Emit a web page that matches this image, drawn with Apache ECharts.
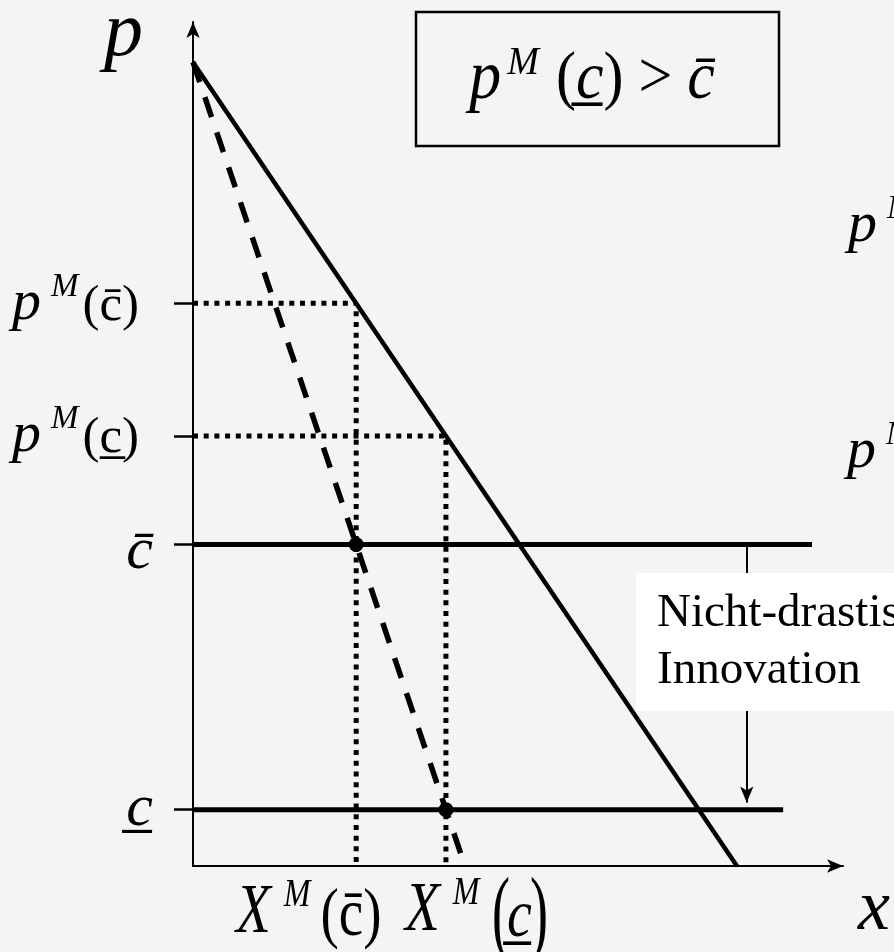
<!DOCTYPE html>
<html>
<head>
<meta charset="utf-8">
<script src="https://cdn.jsdelivr.net/npm/echarts@6/dist/echarts.min.js"></script>
<style>
  html, body { margin: 0; padding: 0; background: #f4f4f4; }
  #chart { width: 894px; height: 952px; }
</style>
</head>
<body>
<div id="chart"></div>
<script>
// Nachfrage- und Grenzerlöskurve (x, p)
const demandLine = [[0, 10], [10, 0]];
const mrLine = [[0, 10], [5, 0]];

// Kostenniveaus vor / nach der Innovation
const cHigh = 4;
const cLow = 0.7;
const cHighEnd = 11.38;
const cLowEnd = 10.85;

// Monopolpreise und -mengen
const pMonopoly = [7, 5.35];   // p^M(c̄), p^M(c̲)
const xMonopoly = [3, 4.65];   // X^M(c̄), X^M(c̲)

// Achsenmarken links
const yTicks = [cLow, cHigh, pMonopoly[1], pMonopoly[0]];
const yTickLabels = ['{c|c̲}', '{cb|c̄}', '{p|p}{m|M}{u|(c̲)}', '{p|p}{m|M}{u|(c̄)}'];

// Pfeil "Nicht-drastische Innovation"
const arrowX = 10.18;

const serif = '"Liberation Serif", "Times New Roman", serif';

const chart = echarts.init(document.getElementById('chart'));

const richLabel = {
  p: { fontFamily: serif, fontStyle: 'italic', fontSize: 58, lineHeight: 66, color: '#000', verticalAlign: 'middle' },
  m: { fontFamily: serif, fontStyle: 'italic', fontSize: 33, lineHeight: 32, color: '#000', verticalAlign: 'top', padding: [0, 4, 0, 10] },
  u: { fontFamily: serif, fontSize: 51, lineHeight: 66, color: '#000', verticalAlign: 'middle', padding: [6, 14, 0, 0] },
  c: { fontFamily: serif, fontStyle: 'italic', fontSize: 60, lineHeight: 66, color: '#000', verticalAlign: 'middle' },
  cb: { fontFamily: serif, fontStyle: 'italic', fontSize: 60, lineHeight: 66, color: '#000', verticalAlign: 'middle', padding: [16, 0, 0, 0] }
};

const richSide = {
  p: { fontFamily: serif, fontStyle: 'italic', fontSize: 58, lineHeight: 66, color: '#000', verticalAlign: 'middle' },
  m: { fontFamily: serif, fontStyle: 'italic', fontSize: 33, lineHeight: 32, color: '#000', verticalAlign: 'top', padding: [0, 0, 0, 10] }
};

// gestreckte Formeltexte (wie im Original hochskaliert)
const xLabelRich = {
  x: { fontFamily: serif, fontStyle: 'italic', fontSize: 57, lineHeight: 62, verticalAlign: 'middle' },
  m: { fontFamily: serif, fontStyle: 'italic', fontSize: 32, lineHeight: 30, verticalAlign: 'top', padding: [0, 10, 0, 13] },
  u: { fontFamily: serif, fontSize: 55, lineHeight: 62, verticalAlign: 'middle', padding: [6, 0, 0, 0] }
};

const option = {
  backgroundColor: '#f4f4f4',
  animation: false,
  grid: { left: 193, right: 51, top: 22, bottom: 86 },
  xAxis: {
    type: 'value',
    min: 0,
    max: 11.95,
    axisLine: { show: true, symbol: ['none', 'arrow'], symbolSize: [10, 16], lineStyle: { color: '#000', width: 2 } },
    axisTick: { show: false },
    axisLabel: { show: false },
    splitLine: { show: false }
  },
  yAxis: {
    type: 'value',
    min: 0,
    max: 10.5,
    axisLine: { show: true, symbol: ['none', 'arrow'], symbolSize: [10, 16], lineStyle: { color: '#000', width: 2 } },
    axisTick: { show: true, customValues: yTicks, length: 19, lineStyle: { color: '#000', width: 2.5 } },
    axisLabel: {
      show: true,
      customValues: yTicks,
      margin: 40,
      formatter: (v) => yTickLabels[yTicks.indexOf(v)] || '',
      rich: richLabel
    },
    splitLine: { show: false }
  },
  series: [
    {
      // gepunktete Hilfslinien
      type: 'line',
      data: [[0, pMonopoly[0]], [xMonopoly[0], pMonopoly[0]], [xMonopoly[0], 0]],
      showSymbol: false,
      lineStyle: { color: '#000', width: 5, type: [5, 5.7] },
      z: 1
    },
    {
      type: 'line',
      data: [[0, pMonopoly[1]], [xMonopoly[1], pMonopoly[1]], [xMonopoly[1], 0]],
      showSymbol: false,
      lineStyle: { color: '#000', width: 5, type: [5, 5.7] },
      z: 1
    },
    {
      // Grenzerlös
      type: 'line',
      data: mrLine,
      showSymbol: false,
      lineStyle: { color: '#000', width: 5.5, type: [21, 16] },
      z: 2
    },
    {
      // Nachfrage
      type: 'line',
      data: demandLine,
      showSymbol: false,
      lineStyle: { color: '#000', width: 4.5 },
      z: 3
    },
    {
      type: 'line',
      data: [[0, cHigh], [cHighEnd, cHigh]],
      showSymbol: false,
      lineStyle: { color: '#000', width: 5 },
      z: 3,
      markLine: {
        silent: true,
        symbol: ['none', 'arrow'],
        symbolSize: [10, 16],
        label: { show: false },
        lineStyle: { color: '#000', width: 2, type: 'solid' },
        data: [[{ coord: [arrowX, cHigh] }, { coord: [arrowX, cLow + 0.09] }]]
      }
    },
    {
      type: 'line',
      data: [[0, cLow], [cLowEnd, cLow]],
      showSymbol: false,
      lineStyle: { color: '#000', width: 5 },
      z: 3
    },
    {
      type: 'scatter',
      data: [[xMonopoly[0], cHigh], [xMonopoly[1], cLow]],
      symbolSize: 15,
      itemStyle: { color: '#000', opacity: 1 },
      z: 4
    }
  ],
  graphic: [
    // Achsenbeschriftungen
    { type: 'text', x: 104, y: 34, z: 100, style: { text: 'p', font: 'italic 78px ' + serif, fill: '#000', verticalAlign: 'middle' } },
    { type: 'text', x: 858, y: 910, z: 100, style: { text: 'x', font: 'italic 72px ' + serif, fill: '#000', verticalAlign: 'middle' } },
    {
      type: 'text', x: 236, y: 914, z: 100, scaleY: 1.22,
      style: { text: '{x|X}{m|M}{u|(c̄)}', verticalAlign: 'middle', rich: xLabelRich }
    },
    {
      type: 'text', x: 405, y: 912, z: 100, scaleY: 1.22,
      style: { text: '{x|X}{m|M}', verticalAlign: 'middle', rich: xLabelRich }
    },
    { type: 'text', x: 492, y: 918, z: 100, scaleY: 1.75, style: { text: '(', font: '54px ' + serif, fill: '#000', verticalAlign: 'middle' } },
    { type: 'text', x: 507, y: 918, z: 100, scaleY: 1.22, style: { text: 'c̲', font: 'italic 56px ' + serif, fill: '#000', verticalAlign: 'middle' } },
    { type: 'text', x: 530, y: 918, z: 100, scaleY: 1.75, style: { text: ')', font: '54px ' + serif, fill: '#000', verticalAlign: 'middle' } },
    // abgeschnittene Beschriftungen rechts
    {
      type: 'text', x: 848, y: 226, z: 100,
      style: { text: '{p|p}{m|M}', verticalAlign: 'middle', rich: richSide }
    },
    {
      type: 'text', x: 847, y: 452, z: 100,
      style: { text: '{p|p}{m|M}', verticalAlign: 'middle', rich: richSide }
    },
    // Kasten oben
    {
      type: 'rect', z: 100,
      shape: { x: 416, y: 12, width: 363, height: 134 },
      style: { fill: 'none', stroke: '#000', lineWidth: 2.5 }
    },
    {
      type: 'text', x: 592, y: 80, z: 101, scaleY: 1.08,
      style: {
        text: '{p|p}{m|M}{u| (}{c|c̲}{u|) > }{c|c̄}',
        align: 'center',
        verticalAlign: 'middle',
        rich: {
          p: { fontFamily: serif, fontStyle: 'italic', fontSize: 64, lineHeight: 70, verticalAlign: 'middle' },
          m: { fontFamily: serif, fontStyle: 'italic', fontSize: 38, lineHeight: 36, verticalAlign: 'top', padding: [0, 2, 0, 6] },
          u: { fontFamily: serif, fontSize: 60, lineHeight: 70, verticalAlign: 'middle' },
          c: { fontFamily: serif, fontStyle: 'italic', fontSize: 62, lineHeight: 70, verticalAlign: 'middle' }
        }
      }
    },
    // Textfeld Innovation
    {
      type: 'rect', z: 100,
      shape: { x: 636, y: 573, width: 270, height: 138 },
      style: { fill: '#ffffff' }
    },
    {
      type: 'text', x: 657, y: 585, z: 101,
      style: { text: 'Nicht-drastische\nInnovation', font: '47px ' + serif, lineHeight: 57, fill: '#000', verticalAlign: 'top' }
    }
  ]
};

chart.setOption(option);
</script>
</body>
</html>
